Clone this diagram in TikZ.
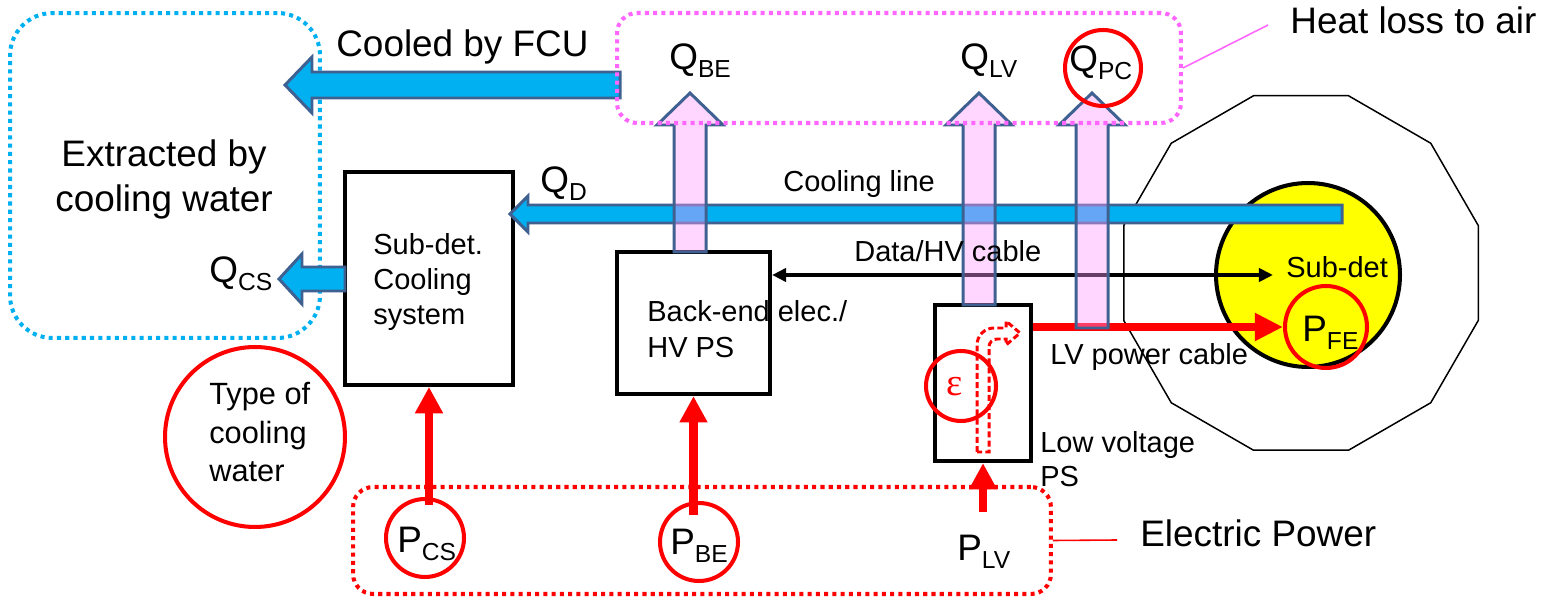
\documentclass[tikz,border=0pt]{standalone}
\usepackage{fontspec}
\setmainfont{Liberation Sans}
\newfontfamily\greekserif{Liberation Serif}
\usetikzlibrary{arrows.meta}
\definecolor{cyanw}{HTML}{00B0F0}
\definecolor{edgeblue}{HTML}{3F6191}
\definecolor{pinkf}{HTML}{FF99FF}
\definecolor{magd}{HTML}{FF66FF}
\definecolor{rd}{HTML}{FF0000}
\definecolor{yel}{HTML}{FFFF00}
\newcommand\qsub[2]{#1\raisebox{-4.5pt}{\fontsize{14}{14}\selectfont #2}}
\newcommand\stk[2]{\begin{tabular}[t]{@{}#1@{}}#2\end{tabular}}
\begin{document}
\begin{tikzpicture}[x=0.02cm,y=-0.02cm,
  txt/.style={inner sep=0pt, anchor=base west},
  big/.style={font=\fontsize{21}{25}\selectfont},
  med/.style={font=\fontsize{16.5}{19.8}\selectfont},
  blackbox/.style={draw=black, line width=2.2pt, inner sep=0pt},
  dotbox/.style={line width=2.3pt, dash pattern=on 2.3pt off 2.4pt, inner sep=0pt},
  bluefat/.style={fill=cyanw, draw=edgeblue, line width=1.7pt},
  pinkfat/.style={fill=pinkf, fill opacity=0.4, draw=edgeblue, line width=1.7pt},
  redcirc/.style={circle, draw=rd, line width=2.3pt, inner sep=0pt},
  redarrow/.style={draw=rd, line width=5pt, -{Triangle[length=15pt,width=15pt]}},
]
\useasboundingbox (0,0) rectangle (1542,597);

% detector outline (12-gon) and sub-detector
\draw[line width=0.85pt, shift={(1301,273)}]
  (15:183.5) -- (45:183.5) -- (75:183.5) -- (105:183.5) -- (135:183.5) -- (165:183.5)
  -- (195:183.5) -- (225:183.5) -- (255:183.5) -- (285:183.5) -- (315:183.5) -- (345:183.5) -- cycle;
\node[circle, fill=yel, draw=black, line width=2.3pt, minimum size=3.68cm, inner sep=0pt] (subdet) at (1308,275) {};

% dotted grouping boxes
\node[dotbox, draw=cyanw, rounded corners=0.85cm, minimum width=6.2cm, minimum height=6.5cm] (cwbox) at (165,175.5) {};
\node[dotbox, draw=rd, rounded corners=0.4cm, minimum width=13.96cm, minimum height=2.14cm] (powbox) at (702,540.5) {};

% black boxes
\node[blackbox, minimum width=3.36cm, minimum height=4.26cm] (sdc) at (429,278.5) {};
\node[blackbox, line width=2.4pt, minimum width=3.06cm, minimum height=2.84cm] (bebox) at (693.5,323) {};
\node[blackbox, line width=2.4pt, minimum width=1.92cm, minimum height=3.12cm] (lvbox) at (983,383) {};

% blue heat-flow arrows
\path[bluefat] (620,72) -- (312,72) -- (312,57) -- (285,85) -- (312,113) -- (312,98) -- (620,98) -- cycle;
\path[bluefat] (1342,205) -- (528,205) -- (528,196) -- (510,214) -- (528,232) -- (528,223) -- (1342,223) -- cycle;
\path[bluefat] (345,267) -- (302,267) -- (302,254) -- (279,279) -- (302,304) -- (302,291) -- (345,291) -- cycle;

% data / HV cable
\coordinate (dataend) at (1273,275);
\draw[line width=2.1pt, {Triangle[length=8pt,width=7.5pt]}-{Triangle[length=8pt,width=7.5pt]}]
  (bebox.east |- dataend) -- (dataend);

% LV power cable
\node[redcirc, minimum size=1.64cm] (pfec) at (1326,327) {};
\draw[draw=rd, line width=4.5pt, -{Triangle[length=16pt,width=15pt]}] (lvbox.east |- pfec.west) -- (pfec.west);

% red power arrows
\node[redcirc, minimum size=1.56cm] (pcsc) at (425,538) {};
\node[redcirc, minimum size=1.56cm] (pbec) at (699,542) {};
\coordinate (plvstart) at (983,512);
\draw[redarrow] (sdc.south |- pcsc.north) ++(0,8) -- (sdc.south);
\draw[redarrow] (bebox.south |- pbec.north) ++(0,14) -- (bebox.south);
\draw[redarrow] (plvstart) -- (lvbox.south);

% conversion inside LV PS
\draw[rd, line width=1.7pt, dash pattern=on 3.4pt off 1.8pt]
  (977,452) -- (977,345) arc[start angle=180, end angle=270, radius=17] -- (1006,328) -- (1006,321)
  -- (1020,333) -- (1006,345) -- (1006,339) -- (997,339) arc[start angle=270, end angle=180, radius=8]
  -- (989,452) -- cycle;
\node[redcirc, minimum size=1.4cm] (epsc) at (961,386) {};
\node[text=rd, inner sep=0pt, font=\greekserif\fontsize{22}{22}\selectfont] (eps) at (955,387) {ε};

% pink heat-loss arrows
\path[pinkfat] (674,252) -- (674,125) -- (657,125) -- (690,93) -- (723,125) -- (706,125) -- (706,252) -- cycle;
\path[pinkfat] (963,305) -- (963,125) -- (946,125) -- (979,93) -- (1012,125) -- (995,125) -- (995,305) -- cycle;
\path[pinkfat] (1076,328) -- (1076,125) -- (1059,125) -- (1092,93) -- (1125,125) -- (1108,125) -- (1108,328) -- cycle;

\node[dotbox, draw=magd, rounded corners=0.4cm, minimum width=11.28cm, minimum height=2.2cm] (heatbox) at (899,68) {};

% texts
\node[txt, big] (fcu) at (336,57) {Cooled by FCU};
\node[inner sep=0pt, anchor=base, font=\fontsize{21}{25.5}\selectfont] (extr) at (164,167) {\stk{c}{Extracted by\\cooling water}};
\node[txt, big] (heat) at (1290,34) {Heat loss to air};
\node[txt, big] (elpow) at (1140,547) {Electric Power};
\node[txt, big] (qbe) at (669,70) {\qsub{Q}{BE}};
\node[txt, big] (qlv) at (960,70) {\qsub{Q}{LV}};
\node[txt, big] (qpc) at (1069,72) {\qsub{Q}{PC}};
\node[redcirc, minimum size=1.52cm] (qpcc) at (1103,68) {};
\node[txt, big] (qd) at (540,193) {\qsub{Q}{D}};
\node[txt, big] (qcs) at (209,283) {\qsub{Q}{CS}};
\node[txt, big] (pcs) at (397,553) {\qsub{P}{CS}};
\node[txt, big] (pbe) at (670,555) {\qsub{P}{BE}};
\node[txt, big] (plv) at (957,561) {\qsub{P}{LV}};
\node[txt, big] (pfe) at (1302,342) {\qsub{P}{FE}};
\node[txt, med] (subdetl) at (1286,278) {Sub-det};
\node[txt, med] (cline) at (783,192) {Cooling line};
\node[txt, med] (datahv) at (854,262) {Data/HV cable};
\node[txt, font=\fontsize{16.5}{19.85}\selectfont] (sdct) at (373,255) {\stk{l}{Sub-det.\\Cooling\\system}};
\node[txt, font=\fontsize{16.5}{20.4}\selectfont] (bet) at (647,322) {\stk{l}{Back-end elec./\\HV PS}};
\node[txt, med] (lvpc) at (1050,365) {LV power cable};
\node[txt, font=\fontsize{16.5}{19.3}\selectfont] (lowv) at (1040,453) {\stk{l}{Low voltage\\PS}};
\node[redcirc, minimum size=3.6cm] (tcwc) at (255,437) {};
\node[txt, font=\fontsize{17.5}{21.8}\selectfont] (tcw) at (209,405) {\stk{l}{Type of\\cooling\\water}};

% leader lines
\coordinate (heatend) at (1268,25);
\draw[magd, line width=0.9pt] (heatbox.east) -- (heatend);
\coordinate (elend) at (1117,540);
\draw[rd, line width=0.9pt] (powbox.east) -- (elend);
\end{tikzpicture}
\end{document}
